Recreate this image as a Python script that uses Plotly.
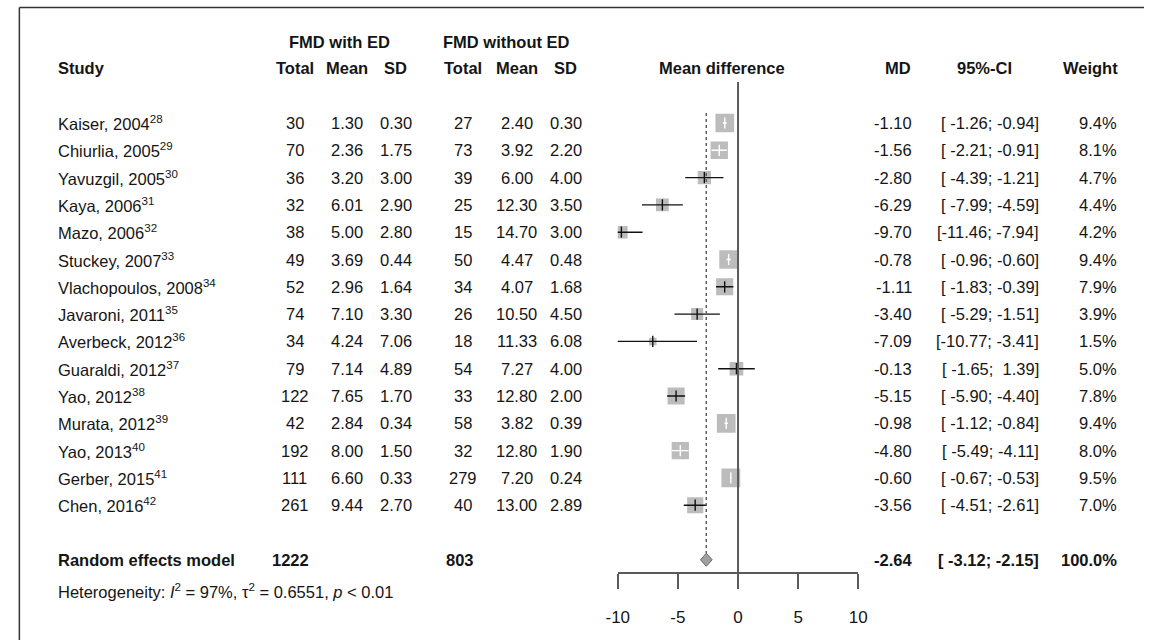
import plotly.graph_objects as go
import numpy as np

# ---------------- data ----------------
studies = ["Kaiser, 2004", "Chiurlia, 2005", "Yavuzgil, 2005", "Kaya, 2006", "Mazo, 2006",
           "Stuckey, 2007", "Vlachopoulos, 2008", "Javaroni, 2011", "Averbeck, 2012",
           "Guaraldi, 2012", "Yao, 2012", "Murata, 2012", "Yao, 2013", "Gerber, 2015", "Chen, 2016"]
refs = ["28", "29", "30", "31", "32", "33", "34", "35", "36", "37", "38", "39", "40", "41", "42"]
total_ed = [30, 70, 36, 32, 38, 49, 52, 74, 34, 79, 122, 42, 192, 111, 261]
mean_ed = [1.30, 2.36, 3.20, 6.01, 5.00, 3.69, 2.96, 7.10, 4.24, 7.14, 7.65, 2.84, 8.00, 6.60, 9.44]
sd_ed = [0.30, 1.75, 3.00, 2.90, 2.80, 0.44, 1.64, 3.30, 7.06, 4.89, 1.70, 0.34, 1.50, 0.33, 2.70]
total_no = [27, 73, 39, 25, 15, 50, 34, 26, 18, 54, 33, 58, 32, 279, 40]
mean_no = [2.40, 3.92, 6.00, 12.30, 14.70, 4.47, 4.07, 10.50, 11.33, 7.27, 12.80, 3.82, 12.80, 7.20, 13.00]
sd_no = [0.30, 2.20, 4.00, 3.50, 3.00, 0.48, 1.68, 4.50, 6.08, 4.00, 2.00, 0.39, 1.90, 0.24, 2.89]
md = [-1.10, -1.56, -2.80, -6.29, -9.70, -0.78, -1.11, -3.40, -7.09, -0.13, -5.15, -0.98, -4.80, -0.60, -3.56]
ci_lo = [-1.26, -2.21, -4.39, -7.99, -11.46, -0.96, -1.83, -5.29, -10.77, -1.65, -5.90, -1.12, -5.49, -0.67, -4.51]
ci_hi = [-0.94, -0.91, -1.21, -4.59, -7.94, -0.60, -0.39, -1.51, -3.41, 1.39, -4.40, -0.84, -4.11, -0.53, -2.61]
weight = [9.4, 8.1, 4.7, 4.4, 4.2, 9.4, 7.9, 3.9, 1.5, 5.0, 7.8, 9.4, 8.0, 9.5, 7.0]

re_total_ed = 1222
re_total_no = 803
re_md = -2.64
re_lo = -3.12
re_hi = -2.15
re_weight = 100.0
heterogeneity = "Heterogeneity: <i>I</i><sup>2</sup> = 97%, τ<sup>2</sup> = 0.6551, <i>p</i> &lt; 0.01"

x_ticks = [-10, -5, 0, 5, 10]

# ---------------- layout constants (page pixels) ----------------
W, H = 1153, 640
FONT = "Liberation Sans, Arial, sans-serif"
FS = 16.5
TXT = "#151515"
GRAY = "#a0a0a0"
LINE = "#5a5a5a"
ROW0, DROW = 123, 27.3
row_y = [ROW0 + i * DROW for i in range(len(studies))]
re_y = ROW0 + 16 * DROW
het_y = 591
AX_Y = 573
FX0, FX1 = 617, 862          # page pixel extent of -10..10
px_per_unit = (FX1 - FX0) / 20.0
BOX_K = 6.1

def px(x):
    return x / W

def py(y):
    return 1 - y / H

annotations = []

def txt(x, y, s, anchor="center", bold=False):
    if bold:
        s = "<b>" + s + "</b>"
    annotations.append(dict(x=px(x), y=py(y), xref="paper", yref="paper", text=s,
                            showarrow=False, xanchor=anchor, yanchor="middle",
                            borderpad=0, borderwidth=0,
                            font=dict(family=FONT, size=FS, color=TXT)))

# columns
C_STUDY = 47
C_T1, C_M1, C_S1 = 288, 341, 391
C_T2, C_M2, C_S2 = 459, 514, 564
C_MD, C_CI, C_W = 917, 1046, 1125

# headers
txt(334, 42, "FMD with ED", bold=True)
txt(504, 42, "FMD without ED", bold=True)
txt(C_STUDY, 68, "Study", "left", True)
for c, s in [(C_T1, "Total"), (C_M1, "Mean"), (C_S1, "SD"),
             (C_T2, "Total"), (C_M2, "Mean"), (C_S2, "SD")]:
    txt(c, 68, s, bold=True)
txt(723, 68, "Mean difference", bold=True)
txt(902, 68, "MD", bold=True)
txt(991, 68, "95%-CI", bold=True)
txt(C_W + 2, 68, "Weight", "right", True)

def ci_str(lo, hi):
    return "[{:6.2f};{:6.2f}]".format(lo, hi).replace(" ", "&#160;")

for i, y in enumerate(row_y):
    txt(C_STUDY, y, f"{studies[i]}<sup>{refs[i]}</sup>", "left")
    txt(C_T1, y, f"{total_ed[i]}")
    txt(C_M1, y, f"{mean_ed[i]:.2f}")
    txt(C_S1, y, f"{sd_ed[i]:.2f}")
    txt(C_T2, y, f"{total_no[i]}")
    txt(C_M2, y, f"{mean_no[i]:.2f}")
    txt(C_S2, y, f"{sd_no[i]:.2f}")
    txt(C_MD, y, f"{md[i]:.2f}", "right")
    txt(C_CI, y, ci_str(ci_lo[i], ci_hi[i]), "right")
    txt(C_W, y, f"{weight[i]:.1f}%", "right")

txt(C_STUDY, re_y, "Random effects model", "left", True)
txt(C_T1 - 4, re_y, f"{re_total_ed}", bold=True)
txt(C_T2 - 3, re_y, f"{re_total_no}", bold=True)
txt(C_MD, re_y, f"{re_md:.2f}", "right", True)
txt(C_CI, re_y, ci_str(re_lo, re_hi), "right", True)
txt(C_W, re_y, f"{re_weight:.1f}%", "right", True)
txt(C_STUDY, het_y, heterogeneity, "left")

# ---------------- traces ----------------
fig = go.Figure()

box_px = [BOX_K * np.sqrt(w) for w in weight]
inside = [(ci_hi[i] - ci_lo[i]) * px_per_unit < box_px[i] for i in range(len(md))]

fig.add_trace(go.Scatter(x=md, y=row_y, mode="markers",
                         marker=dict(symbol="square", size=box_px, color=GRAY, line=dict(width=0)),
                         hoverinfo="skip", showlegend=False))

for flag, col in [(False, "#111111"), (True, "#ffffff")]:
    xs, ys, mx, my = [], [], [], []
    for i in range(len(md)):
        if inside[i] == flag:
            xs += [ci_lo[i], ci_hi[i], None]
            ys += [row_y[i], row_y[i], None]
            mx.append(md[i])
            my.append(row_y[i])
    fig.add_trace(go.Scatter(x=xs, y=ys, mode="lines", line=dict(color=col, width=1.4),
                             hoverinfo="skip", showlegend=False))
    fig.add_trace(go.Scatter(x=mx, y=my, mode="markers",
                             marker=dict(symbol="line-ns", size=8, line=dict(color=col, width=1.4)),
                             hoverinfo="skip", showlegend=False))

# summary diamond
dh = 6.5
fig.add_trace(go.Scatter(x=[re_lo, re_md, re_hi, re_md, re_lo],
                         y=[re_y, re_y - dh, re_y, re_y + dh, re_y],
                         mode="lines", fill="toself", fillcolor=GRAY,
                         line=dict(color="#666666", width=1),
                         hoverinfo="skip", showlegend=False))

shapes = [
    # line of no effect
    dict(type="line", xref="x", yref="y", x0=0, x1=0, y0=82, y1=AX_Y,
         line=dict(color=LINE, width=2)),
    # pooled estimate dotted line
    dict(type="line", xref="x", yref="y", x0=re_md, x1=re_md, y0=113, y1=re_y - dh,
         line=dict(color=LINE, width=1.5, dash="dot")),
    # frame: top and left edges
    dict(type="line", xref="paper", yref="paper", x0=px(7.5), x1=1, y0=py(7.5), y1=py(7.5),
         line=dict(color="#333333", width=1.5)),
    dict(type="line", xref="paper", yref="paper", x0=px(7.5), x1=px(7.5), y0=py(7.5), y1=0,
         line=dict(color="#333333", width=1.5)),
]

fig.update_layout(
    width=W, height=H,
    margin=dict(l=0, r=0, t=0, b=0),
    paper_bgcolor="white", plot_bgcolor="rgba(0,0,0,0)",
    xaxis=dict(domain=[px(FX0), px(FX1)], range=[-10, 10], anchor="free",
               position=py(AX_Y), tickvals=x_ticks, ticktext=[str(t) for t in x_ticks],
               ticks="outside", ticklen=15, tickwidth=2, tickcolor=LINE,
               showline=True, linecolor=LINE, linewidth=2, showgrid=False, zeroline=False,
               tickfont=dict(family=FONT, size=17, color=TXT), ticklabelstandoff=14,
               fixedrange=True),
    yaxis=dict(domain=[0, 1], range=[H, 0], visible=False, showgrid=False,
               zeroline=False, fixedrange=True, anchor="free", position=0),
    annotations=annotations,
    shapes=shapes,
    showlegend=False,
)

fig.write_html("out.html", config={"displayModeBar": False},
               post_script="document.body.style.margin='0';"
                           "document.documentElement.style.overflow='hidden';"
                           "document.body.style.overflow='hidden';")
